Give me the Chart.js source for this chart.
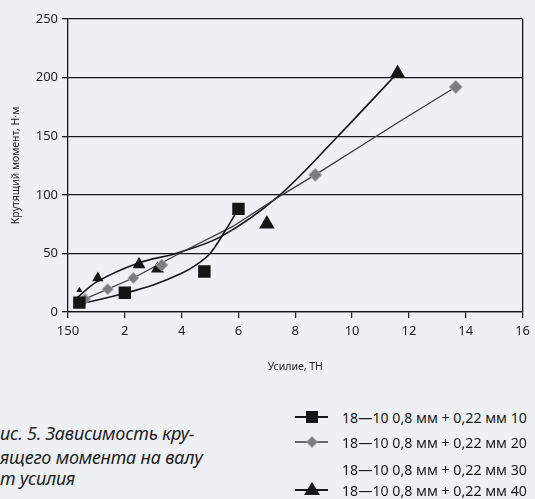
<!DOCTYPE html>
<html><head><meta charset="utf-8">
<script src="https://cdn.jsdelivr.net/npm/chart.js@4.4.0/dist/chart.umd.min.js"></script>
<style>
html,body{margin:0;padding:0;background:#eef0f5;width:535px;height:499px;overflow:hidden;}
#wrap{position:absolute;left:0;top:0;width:535px;height:390px;}
.cap{position:absolute;left:0;font-family:"Noto Sans",sans-serif;font-style:italic;font-size:18px;color:#222;white-space:nowrap;line-height:22px;letter-spacing:-0.2px;}
.leg{position:absolute;left:294px;height:20px;font-family:"Noto Sans",sans-serif;font-size:14.2px;color:#1a1a1a;white-space:nowrap;display:flex;align-items:center;}
.leg canvas{margin-right:12px;}
</style></head>
<body>
<div id="wrap"><canvas id="c"></canvas></div>
<div class="cap" style="top:422px">ис. 5. Зависимость кру-</div>
<div class="cap" style="top:446px">ящего момента на валу</div>
<div class="cap" style="top:467px">т усилия</div>
<div id="legend"></div>
<script>
// ---- data ----
const seriesNames = ['18—10 0,8 мм + 0,22 мм 10','18—10 0,8 мм + 0,22 мм 20','18—10 0,8 мм + 0,22 мм 30','18—10 0,8 мм + 0,22 мм 40'];
const x10 = [0.4, 2.0, 4.8, 6.0];
const y10 = [8, 16.5, 34.5, 88];
const x20 = [0.6, 1.4, 2.3, 3.3, 8.7, 13.65];
const y20 = [11, 19.5, 29, 40, 117, 192];
const x40 = [0.4, 1.05, 2.5, 3.15, 7.0, 11.6];
const y40 = [18.5, 29, 40.5, 37, 75, 204];
// trend curves
const tx10 = [0.3, 1, 2, 3, 4, 4.5, 5, 5.5, 6];
const ty10 = [6.5, 10, 16, 23, 33, 40, 50, 68, 88];
const tx20 = [0.4, 2.3, 4, 5.8, 7.4, 8.7, 10.1, 11.7, 13.65];
const ty20 = [9, 29, 51, 73, 98, 117, 138.5, 163, 192];
const tx40 = [0.25, 1, 2.5, 3.8, 5.4, 7.4, 9.5, 11.6];
const ty40 = [10.5, 25.5, 42, 50, 64.5, 98.6, 150, 204];
const xTicks = [0, 2, 4, 6, 8, 10, 12, 14, 16];
const xTickLabels = ['150', '2', '4', '6', '8', '10', '12', '14', '16'];

const pts = (xs, ys) => xs.map((x, i) => ({x: x, y: ys[i]}));
const FONT = '"Noto Sans", sans-serif';
const INK = '#16161c';

const datasets = [
  {label: seriesNames[0]+' trend', data: pts(tx10, ty10), showLine: true, borderColor: INK, borderWidth: 1.6, pointRadius: 0, tension: 0.35, order: 2},
  {label: seriesNames[1]+' trend', data: pts(tx20, ty20), showLine: true, borderColor: '#3a3a40', borderWidth: 1.3, pointRadius: 0, tension: 0, order: 2},
  {label: seriesNames[3]+' trend', data: pts(tx40, ty40), showLine: true, borderColor: INK, borderWidth: 1.6, pointRadius: 0, tension: 0.35, order: 2},
  {label: seriesNames[0], data: pts(x10, y10), pointStyle: 'rect', pointRadius: 8.8, backgroundColor: '#151515', borderColor: '#151515', borderWidth: 0, order: 0},
  {label: seriesNames[1], data: pts(x20, y20), pointStyle: 'rectRot', pointRadius: [5.5, 5.5, 5.5, 6, 6.5, 6.5], backgroundColor: '#7c7c80', borderColor: '#a4a4a8', borderWidth: 1, order: 0},
  {label: seriesNames[2], data: [], pointRadius: 0, order: 0},
  {label: seriesNames[3], data: pts(x40, y40), pointStyle: 'triangle', pointRadius: [3.5, 6.5, 7.5, 7.5, 9, 8.5], backgroundColor: '#151515', borderColor: '#151515', borderWidth: 0, order: 0}
];

new Chart(document.getElementById('c'), {
  type: 'scatter',
  data: {datasets: datasets},
  options: {
    responsive: true, maintainAspectRatio: false, animation: false,
    layout: {padding: {top: 19, right: 0, left: 0, bottom: 0}},
    plugins: {legend: {display: false}, tooltip: {enabled: false}},
    scales: {
      x: {
        type: 'linear', min: 0, max: 16,
        afterBuildTicks: s => { s.ticks = xTicks.map(v => ({value: v})); },
        afterFit: s => { s.height = 78; },
        border: {display: true, color: INK, width: 1.3},
        grid: {
          drawOnChartArea: true, drawTicks: true, tickLength: 6,
          color: c => (c.tick && c.tick.value === 16) ? INK : 'rgba(0,0,0,0)',
          tickColor: INK, lineWidth: 1.3, tickWidth: 1.2
        },
        ticks: {
          padding: 5, color: '#222', font: {family: FONT, size: 13},
          maxRotation: 0, autoSkip: false,
          callback: (v) => { const i = xTicks.indexOf(v); return i >= 0 ? xTickLabels[i] : ''; }
        },
        title: {display: true, text: 'Усилие, ТН', color: '#222', font: {family: FONT, size: 10.5}, padding: {top: 0, bottom: 17}}
      },
      y: {
        min: 0, max: 250,
        afterFit: s => { s.width = 68; },
        border: {display: true, color: INK, width: 1.3},
        grid: {color: INK, lineWidth: 1.3, tickLength: 6, tickColor: INK},
        ticks: {stepSize: 50, padding: 4, color: '#222', font: {family: FONT, size: 13}},
        title: {display: true, text: 'Крутящий момент, Н·м', color: '#222', font: {family: FONT, size: 10.5}, padding: {top: 10, bottom: 0}}
      }
    }
  }
});

// ---- legend (bottom right) ----
const legendRows = [
  {name: seriesNames[0], top: 407, marker: 'rect', line: true},
  {name: seriesNames[1], top: 432, marker: 'diamond', line: true},
  {name: seriesNames[2], top: 459, marker: null, line: false},
  {name: seriesNames[3], top: 480, marker: 'tri', line: true}
];
const lg = document.getElementById('legend');
legendRows.forEach(r => {
  const d = document.createElement('div');
  d.className = 'leg'; d.style.top = r.top + 'px';
  const cv = document.createElement('canvas'); cv.width = 36; cv.height = 20;
  const g = cv.getContext('2d');
  if (r.line) { g.strokeStyle = r.marker === 'diamond' ? '#3a3a40' : INK; g.lineWidth = r.marker === 'diamond' ? 1.3 : 2; g.beginPath(); g.moveTo(1, 10); g.lineTo(34, 10); g.stroke(); }
  if (r.marker === 'rect') { g.fillStyle = '#151515'; g.fillRect(12, 4, 12, 12); }
  if (r.marker === 'diamond') { g.fillStyle = '#7c7c80'; g.strokeStyle = '#a4a4a8'; g.lineWidth = 1; g.beginPath(); g.moveTo(18, 4.5); g.lineTo(23.5, 10); g.lineTo(18, 15.5); g.lineTo(12.5, 10); g.closePath(); g.fill(); g.stroke(); }
  if (r.marker === 'tri') { g.fillStyle = '#151515'; g.beginPath(); g.moveTo(18, 2); g.lineTo(26, 15); g.lineTo(10, 15); g.closePath(); g.fill(); }
  d.appendChild(cv);
  const t = document.createElement('span'); t.textContent = r.name; d.appendChild(t);
  lg.appendChild(d);
});
</script>
</body></html>
